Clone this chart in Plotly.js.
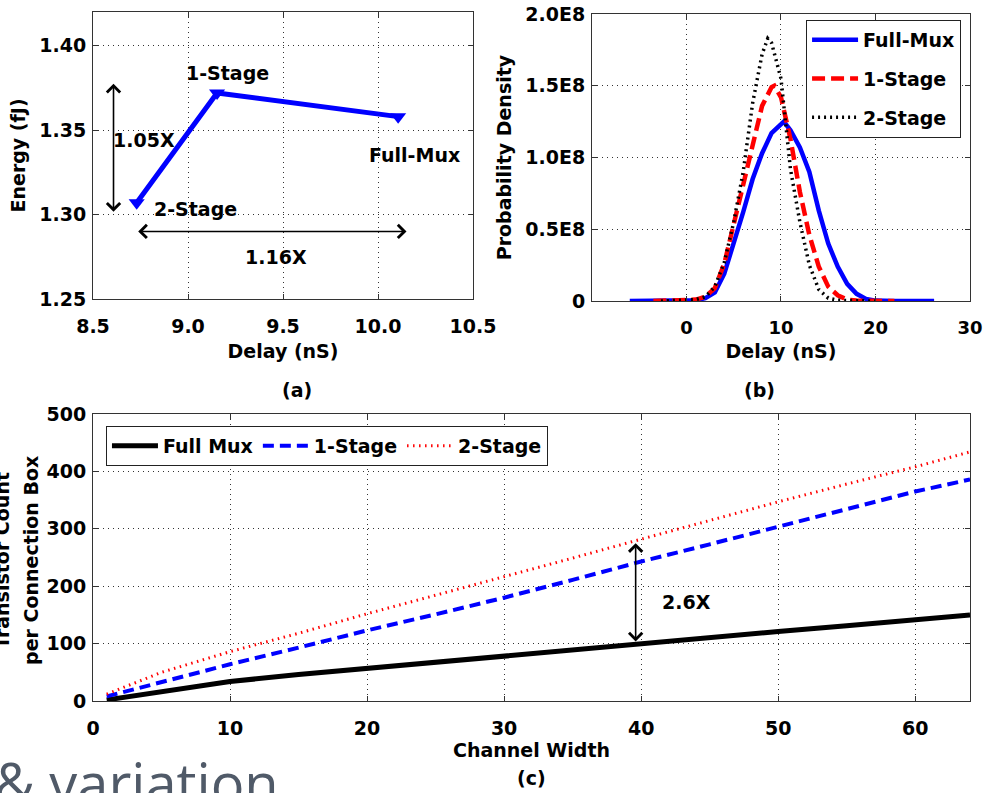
<!DOCTYPE html>
<html>
<head>
<meta charset="utf-8">
<script src="https://cdn.plot.ly/plotly-3.0.1.min.js"></script>
<style>html,body{margin:0;padding:0;background:#fff;overflow:hidden}</style>
</head>
<body>
<div id="chart" style="width:983px;height:793px"></div>
<script>
// (a) energy vs delay
const archNames = ['2-Stage', '1-Stage', 'Full-Mux'];
const archDelay = [8.73, 9.153, 10.106];
const archEnergy = [1.307, 1.372, 1.358];

// (b) delay probability density
const fullMuxDelayX = [-6, 0, 1, 2, 3, 4, 5, 6, 7, 8, 9, 10, 10.3, 11, 12, 13, 14, 15, 16, 17, 18, 19, 20, 22, 26.2];
const fullMuxDensity = [0, 0.002e8, 0.005e8, 0.02e8, 0.06e8, 0.19e8, 0.40e8, 0.62e8, 0.85e8, 1.03e8, 1.17e8, 1.24e8, 1.25e8, 1.19e8, 1.07e8, 0.90e8, 0.63e8, 0.40e8, 0.24e8, 0.12e8, 0.05e8, 0.015e8, 0.003e8, 0, 0];
const oneStageDelayX = [-3.5, 0, 1, 2, 3, 4, 5, 6, 7, 8, 9, 9.3, 10, 11, 12, 13, 14, 15, 16, 17, 18, 22];
const oneStageDensity = [0, 0.003e8, 0.01e8, 0.03e8, 0.09e8, 0.26e8, 0.53e8, 0.80e8, 1.07e8, 1.36e8, 1.49e8, 1.50e8, 1.42e8, 1.13e8, 0.76e8, 0.46e8, 0.24e8, 0.10e8, 0.04e8, 0.01e8, 0.003e8, 0];
const twoStageDelayX = [-2.7, 0, 1, 2, 3, 4, 5, 6, 7, 8, 8.6, 9, 10, 11, 12, 13, 14, 15, 16, 20];
const twoStageDensity = [0, 0.003e8, 0.01e8, 0.03e8, 0.10e8, 0.27e8, 0.55e8, 0.90e8, 1.38e8, 1.72e8, 1.83e8, 1.80e8, 1.55e8, 0.92e8, 0.55e8, 0.25e8, 0.08e8, 0.02e8, 0.005e8, 0];
const densityTickVals = [0, 0.5e8, 1.0e8, 1.5e8, 2.0e8];
const densityTickText = ['0', '0.5E8', '1.0E8', '1.5E8', '2.0E8'];

// (c) transistor count vs channel width
const channelWidth = [1, 5, 10, 15, 20, 25, 30, 35, 40, 45, 50, 55, 60, 64];
const fullMuxCount = [2, 17, 34, 46, 57, 67, 77, 88, 100, 110, 121, 131, 141, 150];
const oneStageCount = [8, 33, 64, 93, 123, 151, 180, 211, 243, 273, 304, 334, 365, 386];
const twoStageCount = [12, 50, 86, 118, 152, 184, 216, 249, 282, 315, 347, 378, 408, 434];

const FONT = 'DejaVu Sans';
const tickFont = {family: FONT, size: 19, color: '#000', weight: 'bold'};
const labFont = {family: FONT, size: 19, color: '#000', weight: 'bold'};
const DOTGRID = '1px,4px';

function axisBase(extra) {
  return Object.assign({
    showline: true, linecolor: '#333', linewidth: 1, mirror: 'ticks',
    ticks: 'inside', ticklen: 5, tickcolor: '#333', tickwidth: 1,
    showgrid: true, gridcolor: '#333', gridwidth: 1, griddash: DOTGRID,
    zeroline: false, tickfont: tickFont, fixedrange: true
  }, extra);
}

const traces = [
  {x: archDelay, y: archEnergy, text: archNames, xaxis: 'x', yaxis: 'y', mode: 'lines+markers',
   line: {color: '#0000ff', width: 5}, marker: {symbol: 'triangle-down', size: 14, color: '#0000ff'},
   showlegend: false, hoverinfo: 'skip'},
  {x: fullMuxDelayX, y: fullMuxDensity, xaxis: 'x2', yaxis: 'y2', mode: 'lines', name: 'Full-Mux',
   line: {color: '#0000ff', width: 4.5}, legend: 'legend', legendgroup: 'g1'},
  {x: oneStageDelayX, y: oneStageDensity, xaxis: 'x2', yaxis: 'y2', mode: 'lines', name: '1-Stage',
   line: {color: '#ff0000', width: 4.5, dash: '13px,6px'}, legend: 'legend', legendgroup: 'g2'},
  {x: twoStageDelayX, y: twoStageDensity, xaxis: 'x2', yaxis: 'y2', mode: 'lines', name: '2-Stage',
   line: {color: '#000000', width: 3.5, dash: '2px,4px'}, legend: 'legend', legendgroup: 'g3'},
  {x: channelWidth, y: fullMuxCount, xaxis: 'x3', yaxis: 'y3', mode: 'lines', name: 'Full Mux',
   line: {color: '#000000', width: 5}, legend: 'legend2'},
  {x: channelWidth, y: oneStageCount, xaxis: 'x3', yaxis: 'y3', mode: 'lines', name: '1-Stage',
   line: {color: '#0000ff', width: 4, dash: '11px,6px'}, legend: 'legend2'},
  {x: channelWidth, y: twoStageCount, xaxis: 'x3', yaxis: 'y3', mode: 'lines', name: '2-Stage',
   line: {color: '#ff0000', width: 3, dash: '1.5px,4.5px'}, legend: 'legend2'}
];

const annoFont = {family: FONT, size: 19, color: '#000', weight: 'bold'};
function txt(x, y, t, xref, yref, extra) {
  return Object.assign({x: x, y: y, text: t, xref: xref, yref: yref, showarrow: false, font: annoFont}, extra || {});
}
function dbl(x0, y0, x1, y1, xr, yr) {
  return {x: x1, y: y1, ax: x0, ay: y0, xref: xr, yref: yr, axref: xr, ayref: yr, text: '',
          showarrow: true, arrowside: 'end+start', arrowhead: 4, startarrowhead: 4,
          arrowsize: 1.6, startarrowsize: 1.6, arrowwidth: 1.6, arrowcolor: '#000', standoff: 0, startstandoff: 0};
}

const layout = {
  width: 983, height: 793, autosize: false,
  margin: {l: 0, r: 0, t: 0, b: 0, pad: 0},
  paper_bgcolor: '#fff', plot_bgcolor: '#fff',
  font: {family: FONT, color: '#000'},
  xaxis: axisBase({domain: [0.0946, 0.4812], anchor: 'y', range: [8.5, 10.5],
    tickvals: [8.5, 9, 9.5, 10, 10.5], tickformat: '.1f', ticklabelstandoff: 10,
    title: {text: 'Delay (nS)', font: labFont, standoff: 8}}),
  yaxis: axisBase({domain: [0.6230, 0.9849], anchor: 'x', range: [1.25, 1.42],
    tickvals: [1.25, 1.30, 1.35, 1.40], tickformat: '.2f', ticklabelstandoff: 2,
    title: {text: 'Energy (fJ)', font: labFont, standoff: 8}}),
  xaxis2: axisBase({domain: [0.6022, 0.9868], anchor: 'y2', range: [-10, 30],
    tickvals: [0, 10, 20, 30], ticklabelstandoff: 10,
    tickfont: {family: FONT, size: 18, color: '#000', weight: 'bold'},
    title: {text: 'Delay (nS)', font: labFont, standoff: 8}}),
  yaxis2: axisBase({domain: [0.6204, 0.9823], anchor: 'x2', range: [0, 2e8],
    tickvals: densityTickVals, ticktext: densityTickText, ticklabelstandoff: 2,
    title: {text: 'Probability Density', font: labFont, standoff: 8}}),
  xaxis3: axisBase({domain: [0.0946, 0.9868], anchor: 'y3', range: [0, 64],
    tickvals: [0, 10, 20, 30, 40, 50, 60], ticklabelstandoff: 10,
    title: {text: 'Channel Width', font: labFont, standoff: 1}}),
  yaxis3: axisBase({domain: [0.1160, 0.4779], anchor: 'x3', range: [0, 500],
    tickvals: [0, 100, 200, 300, 400, 500], ticklabelstandoff: 2}),
  legend: {x: 0.820, y: 0.9748, xanchor: 'left', yanchor: 'top', bgcolor: '#fff',
    bordercolor: '#222', borderwidth: 1, font: labFont, tracegroupgap: 11, itemwidth: 46,
    orientation: 'v'},
  legend2: {x: 0.1078, y: 0.4628, xanchor: 'left', yanchor: 'top', bgcolor: '#fff',
    bordercolor: '#222', borderwidth: 1, font: labFont, itemwidth: 46, orientation: 'h'},
  annotations: [
    txt(9.21, 1.384, '1-Stage', 'x', 'y'),
    txt(9.04, 1.303, '2-Stage', 'x', 'y'),
    txt(10.19, 1.335, 'Full-Mux', 'x', 'y'),
    txt(8.77, 1.344, '1.05X', 'x', 'y'),
    txt(9.465, 1.275, '1.16X', 'x', 'y'),
    dbl(8.608, 1.3008, 8.608, 1.3775, 'x', 'y'),
    dbl(8.73, 1.290, 10.15, 1.290, 'x', 'y'),
    dbl(39.6, 101, 39.6, 275, 'x3', 'y3'),
    txt(43.3, 172, '2.6X', 'x3', 'y3'),
    txt(2 / 983, 0.2926, 'Transistor Count', 'paper', 'paper', {textangle: -90, xanchor: 'center', yanchor: 'middle'}),
    txt(31 / 983, 0.2926, 'per Connection Box', 'paper', 'paper', {textangle: -90, xanchor: 'center', yanchor: 'middle'}),
    txt(0.2848, 0.508, '(a)', 'paper', 'paper'),
    txt(0.7904, 0.508, '(b)', 'paper', 'paper'),
    txt(0.5412, 0.003, '(c)', 'paper', 'paper'),
    txt(-0.008, -0.037, '&amp; variation', 'paper', 'paper',
        {xanchor: 'left', font: {family: 'Open Sans', size: 56, color: '#505a68'}})
  ]
};

Plotly.newPlot('chart', traces, layout, {displayModeBar: false, staticPlot: true});
</script>
</body>
</html>
